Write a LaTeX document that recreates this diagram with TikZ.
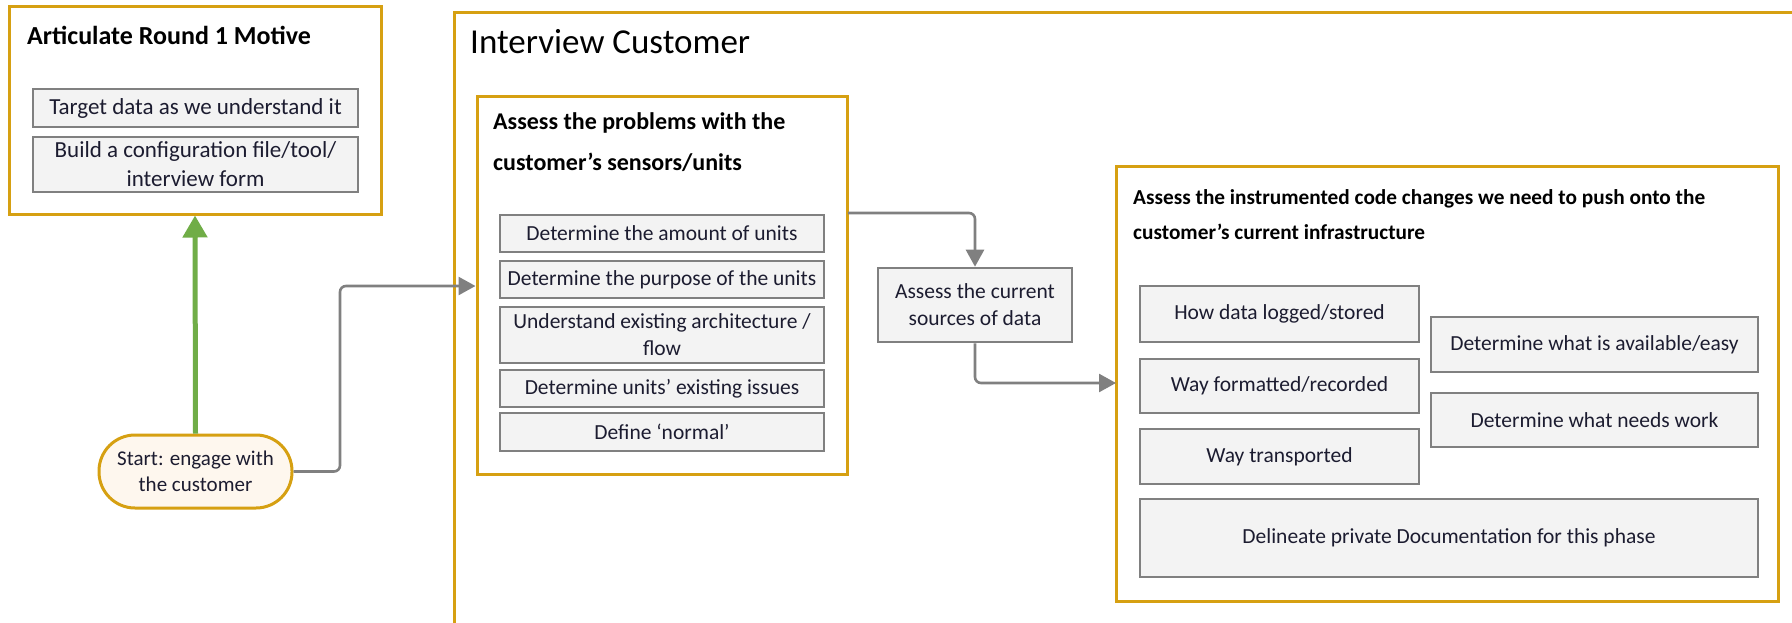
\documentclass[tikz,border=0pt]{standalone}
\usepackage{fontspec}
\setmainfont{Carlito}
\usetikzlibrary{arrows.meta}
\definecolor{gold}{RGB}{214,160,18}
\definecolor{boxgray}{RGB}{128,128,128}
\definecolor{boxfill}{RGB}{243,243,243}
\definecolor{cream}{RGB}{254,247,238}
\definecolor{arrowgreen}{RGB}{112,173,71}
\definecolor{conngray}{RGB}{128,128,128}
\definecolor{txt}{RGB}{28,28,48}
\tikzset{
  goldbox/.style={draw=gold, line width=3pt, fill=white, inner sep=0pt},
  ibox/.style={draw=boxgray, line width=2.6pt, fill=boxfill, inner sep=2pt, align=center, text=txt,
    font=\fontsize{21.5}{27}\selectfont},
  lbox/.style={ibox, font=\fontsize{23}{29}\selectfont},
  ttl/.style={anchor=west, align=left, inner sep=0pt, font=\bfseries\fontsize{24}{41}\selectfont},
  rttl/.style={anchor=west, align=left, inner sep=0pt, font=\bfseries\fontsize{21.3}{35}\selectfont},
  conn/.style={draw=conngray, line width=2.6pt, rounded corners=6pt, -{Triangle[length=17pt,width=18pt]}},
  startnode/.style={draw=gold, line width=3pt, fill=cream, rounded corners=36pt, align=center, text=txt,
    font=\fontsize{21}{26}\selectfont, inner sep=0pt}
}
\begin{document}
\begin{tikzpicture}[x=1pt,y=-1pt]
\useasboundingbox (0,0) rectangle (1792,622);
\fill[white] (0,0) rectangle (1792,622);
\begin{scope}
\clip (0,0) rectangle (1792,622);
% Interview Customer container
\node[goldbox, minimum width=1400pt, minimum height=660pt, anchor=north west] (interview) at (453,11) {};
\end{scope}
\node[anchor=west, inner sep=0pt, font=\fontsize{35}{40}\selectfont] (ictitle) at (470,42) {Interview Customer};

% Left box
\node[goldbox, minimum width=372pt, minimum height=208pt] (leftbox) at (195,110) {};
\node[ttl, font=\bfseries\fontsize{26}{30}\selectfont] (lefttitle) at (27,35) {Articulate Round 1 Motive};
\node[lbox, minimum width=325pt, minimum height=38pt] (l1) at (195.5,108) {Target data as we understand it};
\node[lbox, minimum width=325pt, minimum height=55pt] (l2) at (195.5,164.5) {Build a configuration file/tool/\\interview form};

% Start node
\node[startnode, minimum width=193pt, minimum height=73pt] (start) at (195.5,471.5) {Start: engage with\\the customer};

% Assess problems box
\node[goldbox, minimum width=370pt, minimum height=378pt] (assess) at (662,285) {};
\node[ttl] (assesstitle) at (493,142.5) {Assess the problems with the\\customer’s sensors/units};
\node[ibox, minimum width=324pt, minimum height=37pt] (a1) at (662,233.5) {Determine the amount of units};
\node[ibox, minimum width=324pt, minimum height=37pt] (a2) at (662,279.5) {Determine the purpose of the units};
\node[ibox, minimum width=324pt, minimum height=56pt] (a3) at (662,335) {Understand existing architecture /\\flow};
\node[ibox, minimum width=324pt, minimum height=37pt] (a4) at (662,388.5) {Determine units’ existing issues};
\node[ibox, minimum width=324pt, minimum height=38pt] (a5) at (662,432) {Define ‘normal’};

% Sources
\node[ibox, minimum width=194pt, minimum height=74pt] (sources) at (975,305) {Assess the current\\sources of data};

% Right box
\node[goldbox, minimum width=662pt, minimum height=435pt] (rightbox) at (1447,383.5) {};
\node[rttl] (righttitle) at (1133,214.5) {Assess the instrumented code changes we need to push onto the\\customer’s current infrastructure};
\node[ibox, minimum width=279pt, minimum height=56pt] (r1) at (1279.5,314) {How data logged/stored};
\node[ibox, minimum width=327pt, minimum height=55pt] (r2) at (1594.5,344.5) {Determine what is available/easy};
\node[ibox, minimum width=279pt, minimum height=54pt] (r3) at (1279.5,386) {Way formatted/recorded};
\node[ibox, minimum width=327pt, minimum height=54pt] (r4) at (1594.5,420) {Determine what needs work};
\node[ibox, minimum width=279pt, minimum height=55pt] (r5) at (1279.5,456.5) {Way transported};
\node[ibox, minimum width=618pt, minimum height=78pt] (r6) at (1449,538) {Delineate private Documentation for this phase};

% Connectors
\draw[draw=arrowgreen, line width=5pt, -{Triangle[length=22pt,width=24pt]}] (start.north) -- (leftbox.south);
\coordinate (c1) at (340,286);
\draw[conn] (start.east) -| (c1) -- (c1 -| assess.west);
\coordinate (c2) at (848,213);
\draw[conn] (c2) -| (sources.north);
\coordinate (c3) at (1116,383);
\draw[conn] (sources.south) |- (c3);
\end{tikzpicture}
\end{document}
